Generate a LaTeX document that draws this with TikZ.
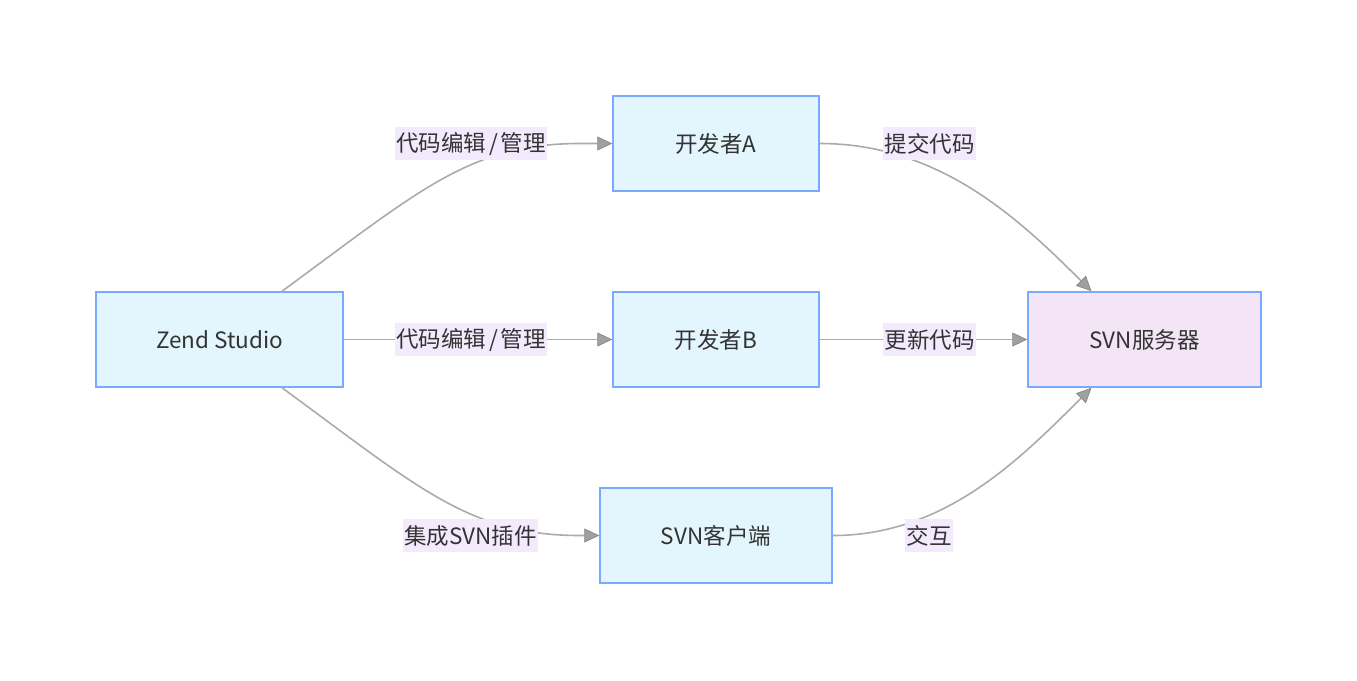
\documentclass[tikz,border=0pt]{standalone}
\usepackage{fontspec}
\setmainfont{Noto Sans CJK SC}
\usetikzlibrary{arrows.meta}
\definecolor{nodefill}{HTML}{E3F5FD}
\definecolor{srvfill}{HTML}{F3E5F5}
\definecolor{nodeline}{HTML}{7AAAFF}
\definecolor{edgeline}{HTML}{ABABAB}
\definecolor{lblbg}{HTML}{F3EBFD}
\definecolor{txt}{HTML}{333333}
\definecolor{tipfill}{HTML}{A0A0A0}
\definecolor{tipline}{HTML}{8A8A8A}
\begin{document}
\begin{tikzpicture}[x=1pt,y=-1pt,
  box/.style={draw=nodeline,line width=1.5pt,fill=nodefill,minimum height=95pt,inner sep=0pt,text=txt,font=\fontsize{22.5}{26}\selectfont},
  lbl/.style={fill=lblbg,inner xsep=1.5pt,inner ysep=0pt,minimum height=33pt,text=txt,font=\fontsize{22.5}{26}\selectfont},
  edge/.style={draw=edgeline,line width=1.6pt,-{Triangle[length=15pt,width=14pt,fill=tipfill,color=tipline,line width=0.8pt]}}]
\useasboundingbox (0,0) rectangle (1357,680);
\fill[white] (0,0) rectangle (1357,680);
\node[box,minimum width=247pt] (zend) at (219.5,339.5) {Zend Studio};
\node[box,minimum width=206pt] (devA) at (716,143.5) {开发者A};
\node[box,minimum width=206pt] (devB) at (716,339.5) {开发者B};
\node[box,minimum width=232pt] (cli) at (716,535.5) {SVN客户端};
\node[box,minimum width=233pt,fill=srvfill] (srv) at (1144.5,339.5) {SVN服务器};
% edges
\draw[edge] ([xshift=62.5pt]zend.north) .. controls (420,190) and (470,143.5) .. (580,143.5) -- (devA.west);
\draw[edge] (zend.east) -- (devB.west);
\draw[edge] ([xshift=62.5pt]zend.south) .. controls (420,489) and (470,535.5) .. (580,535.5) -- (cli.west);
\draw[edge] (devA.east) .. controls (940,143.5) and (1020,220) .. ([xshift=-53pt]srv.north);
\draw[edge] (devB.east) -- (srv.west);
\draw[edge] (cli.east) .. controls (945,535.5) and (1020,459) .. ([xshift=-53pt]srv.south);
% labels
\node[lbl] (l1) at (471,143.5) {代码编辑\hspace{3pt}/\hspace{3pt}管理};
\node[lbl] (l2) at (471,339.5) {代码编辑\hspace{3pt}/\hspace{3pt}管理};
\node[lbl] (l3) at (470.5,535.5) {集成SVN插件};
\node[lbl] (l4) at (929.5,143.5) {提交代码};
\node[lbl] (l5) at (929.5,339.5) {更新代码};
\node[lbl] (l6) at (929,535.5) {交互};
\end{tikzpicture}
\end{document}
